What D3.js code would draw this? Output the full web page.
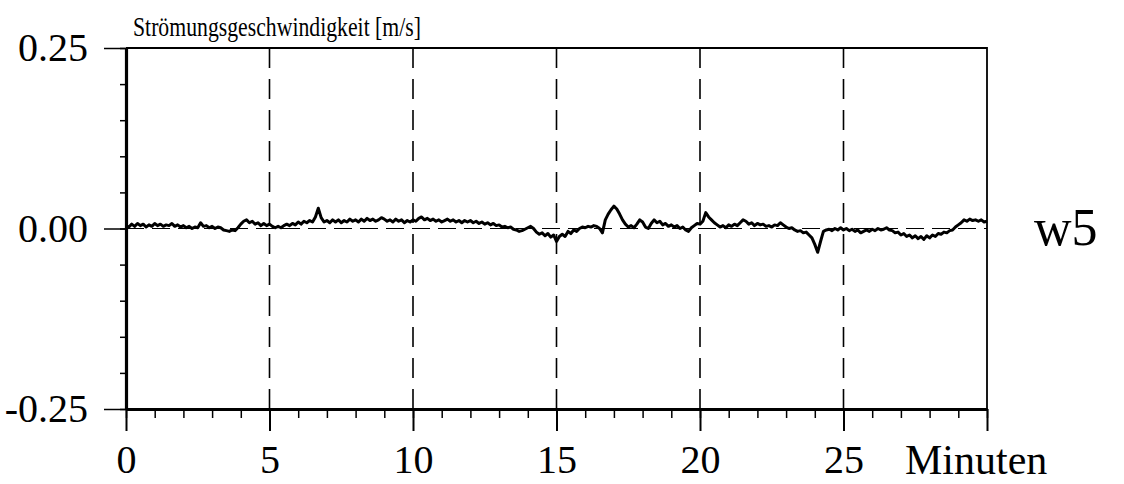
<!DOCTYPE html>
<html>
<head>
<meta charset="utf-8">
<script src="https://cdn.jsdelivr.net/npm/d3@7"></script>
<style>
  html, body { margin: 0; padding: 0; background: #fff; }
  svg { display: block; }
</style>
</head>
<body>
<svg id="chart" width="1124" height="484"></svg>
<script>
// ---- data ----
const yTicks = [0.25, 0.00, -0.25];
const yTickLabels = ["0.25", "0.00", "-0.25"];
const yMinorTicks = [0.25, 0.20, 0.15, 0.10, 0.05, 0.00, -0.05, -0.10, -0.15, -0.20, -0.25];
const xTicks = [0, 5, 10, 15, 20, 25, 30];
const xTickLabels = ["0", "5", "10", "15", "20", "25", ""];
const xMinorTicks = d3.range(0, 31, 1);
const gridMinutes = [5, 10, 15, 20, 25];
const titleText = "Strömungsgeschwindigkeit [m/s]";
const xUnitText = "Minuten";
const seriesName = "w5";

const minutes = [
 0.0,0.1,0.2,0.3,0.4,0.5,0.6,0.7,0.8,0.9,
 1.0,1.1,1.2,1.3,1.4,1.5,1.6,1.7,1.8,1.9,
 2.0,2.1,2.2,2.3,2.4,2.5,2.6,2.7,2.8,2.9,
 3.0,3.1,3.2,3.3,3.4,3.5,3.6,3.7,3.8,3.9,
 4.0,4.1,4.2,4.3,4.4,4.5,4.6,4.7,4.8,4.9,
 5.0,5.1,5.2,5.3,5.4,5.5,5.6,5.7,5.8,5.9,
 6.0,6.1,6.2,6.3,6.4,6.5,6.6,6.7,6.8,6.9,
 7.0,7.1,7.2,7.3,7.4,7.5,7.6,7.7,7.8,7.9,
 8.0,8.1,8.2,8.3,8.4,8.5,8.6,8.7,8.8,8.9,
 9.0,9.1,9.2,9.3,9.4,9.5,9.6,9.7,9.8,9.9,
 10.0,10.1,10.2,10.3,10.4,10.5,10.6,10.7,10.8,10.9,
 11.0,11.1,11.2,11.3,11.4,11.5,11.6,11.7,11.8,11.9,
 12.0,12.1,12.2,12.3,12.4,12.5,12.6,12.7,12.8,12.9,
 13.0,13.1,13.2,13.3,13.4,13.5,13.6,13.7,13.8,13.9,
 14.0,14.1,14.2,14.3,14.4,14.5,14.6,14.7,14.8,14.9,
 15.0,15.1,15.2,15.3,15.4,15.5,15.6,15.7,15.8,15.9,
 16.0,16.1,16.2,16.3,16.4,16.5,16.6,16.7,16.8,16.9,
 17.0,17.1,17.2,17.3,17.4,17.5,17.6,17.7,17.8,17.9,
 18.0,18.1,18.2,18.3,18.4,18.5,18.6,18.7,18.8,18.9,
 19.0,19.1,19.2,19.3,19.4,19.5,19.6,19.7,19.8,19.9,
 20.0,20.1,20.2,20.3,20.4,20.5,20.6,20.7,20.8,20.9,
 21.0,21.1,21.2,21.3,21.4,21.5,21.6,21.7,21.8,21.9,
 22.0,22.1,22.2,22.3,22.4,22.5,22.6,22.7,22.8,22.9,
 23.0,23.1,23.2,23.3,23.4,23.5,23.6,23.7,23.8,23.9,
 24.0,24.1,24.2,24.3,24.4,24.5,24.6,24.7,24.8,24.9,
 25.0,25.1,25.2,25.3,25.4,25.5,25.6,25.7,25.8,25.9,
 26.0,26.1,26.2,26.3,26.4,26.5,26.6,26.7,26.8,26.9,
 27.0,27.1,27.2,27.3,27.4,27.5,27.6,27.7,27.8,27.9,
 28.0,28.1,28.2,28.3,28.4,28.5,28.6,28.7,28.8,28.9,
 29.0,29.1,29.2,29.3,29.4,29.5,29.6,29.7,29.8,29.9,
 30.0
];
const velocity = [
 0.004,0.002,0.006,0.003,0.007,0.004,0.006,0.002,0.005,0.003,
 0.007,0.004,0.006,0.003,0.005,0.004,0.007,0.003,0.005,0.002,
 0.004,0.001,0.003,0.000,0.002,0.001,0.008,0.003,0.004,0.001,
 0.003,0.000,0.002,0.001,-0.002,-0.003,-0.004,-0.002,-0.003,0.001,
 0.006,0.010,0.012,0.008,0.010,0.006,0.008,0.004,0.007,0.004,
 0.006,0.003,0.001,0.003,0.001,0.004,0.006,0.004,0.007,0.005,
 0.009,0.006,0.010,0.008,0.011,0.009,0.016,0.028,0.015,0.009,
 0.011,0.008,0.012,0.009,0.012,0.008,0.011,0.009,0.013,0.010,
 0.012,0.009,0.013,0.010,0.014,0.011,0.013,0.010,0.012,0.015,
 0.013,0.010,0.012,0.009,0.013,0.010,0.012,0.008,0.011,0.009,
 0.012,0.010,0.014,0.016,0.012,0.014,0.011,0.013,0.010,0.012,
 0.009,0.011,0.013,0.010,0.012,0.009,0.011,0.008,0.011,0.009,
 0.011,0.008,0.010,0.007,0.009,0.006,0.008,0.005,0.007,0.004,
 0.005,0.002,0.003,0.001,0.002,-0.001,-0.002,-0.004,-0.003,-0.001,
 0.001,0.003,0.000,-0.005,-0.008,-0.006,-0.010,-0.007,-0.012,-0.009,
 -0.018,-0.011,-0.008,-0.011,-0.004,-0.007,-0.002,-0.004,0.000,0.002,
 0.001,0.003,0.002,0.004,0.003,0.000,-0.006,0.012,0.020,0.026,
 0.031,0.027,0.020,0.012,0.006,0.002,0.004,0.001,0.006,0.012,
 0.009,0.002,0.000,0.007,0.012,0.008,0.010,0.005,0.007,0.003,
 0.005,0.002,0.004,0.000,0.002,-0.002,-0.004,0.001,0.004,0.007,
 0.006,0.010,0.022,0.016,0.012,0.008,0.005,0.002,0.004,0.001,
 0.005,0.003,0.006,0.004,0.008,0.012,0.010,0.006,0.008,0.004,
 0.007,0.005,0.006,0.003,0.004,0.002,0.005,0.004,0.008,0.005,
 0.002,0.000,0.001,-0.002,-0.004,-0.003,-0.006,-0.005,-0.009,-0.013,
 -0.022,-0.033,-0.018,-0.004,-0.002,-0.001,-0.003,0.000,-0.002,0.001,
 -0.002,0.000,-0.003,-0.001,-0.004,-0.002,-0.006,-0.004,-0.002,-0.004,
 -0.001,-0.003,0.000,-0.002,-0.001,0.001,-0.002,-0.003,-0.006,-0.005,
 -0.009,-0.007,-0.011,-0.009,-0.013,-0.010,-0.014,-0.011,-0.015,-0.010,
 -0.013,-0.009,-0.011,-0.007,-0.008,-0.005,-0.006,-0.003,-0.002,0.002,
 0.005,0.008,0.012,0.010,0.013,0.011,0.012,0.010,0.012,0.009,
 0.010
];

// ---- layout ----
const FONT = "'Liberation Serif', 'Times New Roman', serif";
const L = 126, R = 987, T = 48, B = 409;
const svg = d3.select("#chart");
const x = d3.scaleLinear().domain([0, 30]).range([L, R]);
const y = d3.scaleLinear().domain([-0.25, 0.25]).range([B, T]);

// vertical dashed grid lines
svg.append("g").selectAll("line").data(gridMinutes).join("line")
  .attr("x1", d => x(d)).attr("x2", d => x(d))
  .attr("y1", T).attr("y2", B)
  .attr("stroke", "#000").attr("stroke-width", 1.6)
  .attr("stroke-dasharray", "20,11");

// zero dashed line
svg.append("line")
  .attr("x1", x(0)).attr("x2", x(30)).attr("y1", y(0)).attr("y2", y(0))
  .attr("stroke", "#000").attr("stroke-width", 1).attr("stroke-dasharray", "18,8");

// top + right border
svg.append("path")
  .attr("d", `M${x(0)},${y(0.25)}H${x(30)}V${y(-0.25)}`)
  .attr("fill", "none").attr("stroke", "#000").attr("stroke-width", 1.8);

// y axis
const yAxisMinor = d3.axisLeft(y).tickValues(yMinorTicks).tickSize(6).tickFormat("").tickSizeOuter(0);
svg.append("g").attr("transform", `translate(${L},0)`).call(yAxisMinor)
  .call(g => g.select(".domain").attr("stroke-width", 3.2))
  .call(g => g.selectAll(".tick line").attr("stroke-width", 1.5));
const yAxisMajor = d3.axisLeft(y).tickValues(yTicks).tickSize(22).tickPadding(16).tickSizeOuter(0)
  .tickFormat((d, i) => yTickLabels[i]);
svg.append("g").attr("transform", `translate(${L},0)`).call(yAxisMajor)
  .attr("font-family", FONT).attr("font-size", 40)
  .call(g => g.select(".domain").remove())
  .call(g => g.selectAll(".tick line").attr("stroke-width", 1.5))
  .call(g => g.selectAll(".tick text").style("font-family", FONT).attr("font-size", 40).attr("fill", "#000"));

// x axis
const xAxisMinor = d3.axisBottom(x).tickValues(xMinorTicks).tickSize(9).tickFormat("").tickSizeOuter(0);
svg.append("g").attr("transform", `translate(0,${B})`).call(xAxisMinor)
  .call(g => g.select(".domain").attr("stroke-width", 3.2))
  .call(g => g.selectAll(".tick line").attr("stroke-width", 1.5));
const xAxisMajor = d3.axisBottom(x).tickValues(xTicks).tickSize(22).tickPadding(14).tickSizeOuter(0)
  .tickFormat((d, i) => xTickLabels[i]);
svg.append("g").attr("transform", `translate(0,${B})`).call(xAxisMajor)
  .attr("font-family", FONT).attr("font-size", 40)
  .call(g => g.select(".domain").remove())
  .call(g => g.selectAll(".tick line").attr("stroke-width", 2))
  .call(g => g.selectAll(".tick text").style("font-family", FONT).attr("font-size", 40).attr("fill", "#000"));

// series line
const data = minutes.map((m, i) => ({ m, v: velocity[i] }));
svg.append("path").datum(data)
  .attr("fill", "none").attr("stroke", "#000").attr("stroke-width", 3)
  .attr("stroke-linejoin", "round")
  .attr("d", d3.line().x(d => x(d.m)).y(d => y(d.v)));

// texts
svg.append("text").attr("x", 133).attr("y", 36).style("font-family", FONT).attr("font-size", 27)
  .attr("textLength", 288).attr("lengthAdjust", "spacingAndGlyphs").text(titleText);
svg.append("text").attr("x", 905).attr("y", 474).style("font-family", FONT).attr("font-size", 42).text(xUnitText);
svg.append("text").attr("x", 1034).attr("y", 245).style("font-family", FONT).attr("font-size", 52).text(seriesName);
</script>
</body>
</html>
